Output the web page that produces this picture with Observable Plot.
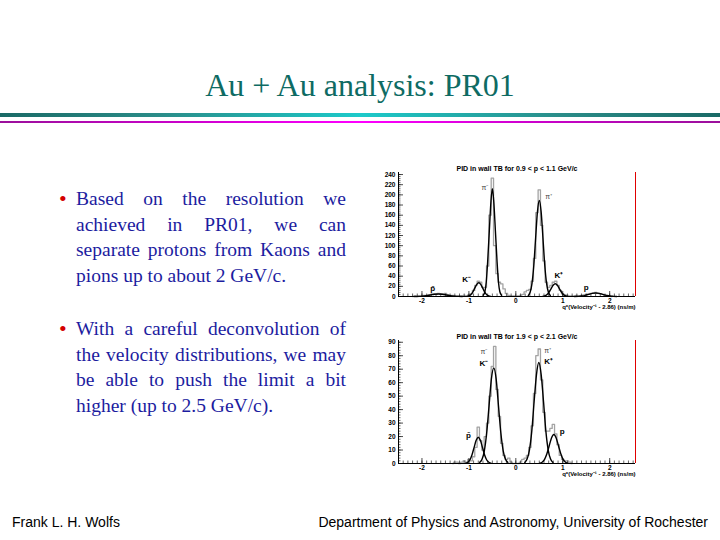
<!DOCTYPE html>
<html>
<head>
<meta charset="utf-8">
<script src="https://cdn.jsdelivr.net/npm/d3@7"></script>
<script src="https://cdn.jsdelivr.net/npm/@observablehq/plot@0.6"></script>
<style>
  body { margin: 0; background: #fff; }
  #slide { position: relative; width: 720px; height: 540px; overflow: hidden; background: #fff; }
  #title { position: absolute; left: 0; top: 69px; width: 720px; text-align: center;
    font-family: "Liberation Serif", "Times New Roman", serif; font-size: 32px; line-height: 32px; color: #0e6b63; }
  .bar1 { position: absolute; left: 0; top: 113px; width: 720px; height: 4px;
    background: linear-gradient(to right, #1a6a66 0%, #2a8c88 22%, #1ccaca 50%, #2a8c88 78%, #1a6a66 100%); }
  .bar2 { position: absolute; left: 0; top: 121px; width: 720px; height: 2px;
    background: linear-gradient(to right, #9a109a 0%, #d000d0 28%, #ff00ff 50%, #d000d0 72%, #9a109a 100%); }
  .bullet { position: absolute; left: 76px; width: 270px; font-family: "Liberation Serif", "Times New Roman", serif;
    font-size: 19.5px; line-height: 25.6px; color: #1c1ca0; }
  .bullet .ln { text-align: justify; text-align-last: justify; }
  .bullet .last { text-align: left; text-align-last: left; }
  .bullet .dot { position: absolute; left: -17px; top: 0; color: #d40000; font-size: 22px; line-height: 25.6px; }
  .chart { position: absolute; left: 370px; }
  .chart svg { display: block; }
  .foot { position: absolute; top: 515px; font-family: "Liberation Sans", Arial, sans-serif; font-size: 14px; line-height: 14px; color: #000; }
</style>
</head>
<body>
<div id="slide">
  <div id="title">Au + Au analysis: PR01</div>
  <div class="bar1"></div>
  <div class="bar2"></div>

  <div class="bullet" style="top:186px">
    <span class="dot">•</span>
    <div class="ln">Based on the resolution we</div>
    <div class="ln">achieved in PR01, we can</div>
    <div class="ln">separate protons from Kaons and</div>
    <div class="ln last">pions up to about 2 GeV/c.</div>
  </div>
  <div class="bullet" style="top:316px">
    <span class="dot">•</span>
    <div class="ln">With a careful deconvolution of</div>
    <div class="ln">the velocity distributions, we may</div>
    <div class="ln">be able to push the limit a bit</div>
    <div class="ln last">higher (up to 2.5 GeV/c).</div>
  </div>

  <div class="chart" id="chartTop" style="top:155px"></div>
  <div class="chart" id="chartBottom" style="top:325px"></div>

  <div class="foot" style="left:12px">Frank L. H. Wolfs</div>
  <div class="foot" style="right:12px; text-align:right">Department of Physics and Astronomy, University of Rochester</div>
</div>

<script>
// ---------- shared axis data ----------
const xDomain = [-2.5, 2.55];
const xTicks = [-2, -1, 0, 1, 2];
const xLabel = "q*(Velocity\u207B\u00B9 - 2.86) (ns/m)";
const binWidth = 0.05;

// ---------- top chart: 0.9 < p < 1.1 GeV/c ----------
const topTitle = "PID in wall TB for 0.9 < p < 1.1 GeV/c";
const topYDomain = [0, 244];
const topYTicks = [0, 20, 40, 60, 80, 100, 120, 140, 160, 180, 200, 220, 240];
const topHistStart = -2.20;
const topHistCounts = [
  0, 1, 0, 1, 1, 2, 2, 3, 4, 5, 4, 6, 5, 5, 6, 3, 2, 2, 1, 1,
  1, 1, 2, 1, 3, 5, 12, 22, 30, 28, 18, 18, 60, 160, 233, 100, 45, 28, 25, 15,
  6, 2, 1, 1, 0, 1, 2, 4, 9, 12, 14, 30, 75, 165, 210, 140, 70, 28, 18, 22,
  28, 30, 22, 12, 5, 3, 2, 1, 1, 1, 2, 1, 2, 3, 4, 5, 6, 7, 8, 6,
  5, 4, 2, 1, 1, 0
];
const topFitPbar = [[-2.16,0.1],[-2.07,0.2],[-1.99,0.7],[-1.91,1.6],[-1.82,3.0],[-1.74,4.4],[-1.65,5],[-1.57,4.4],[-1.48,3.0],[-1.40,1.6],[-1.31,0.7],[-1.23,0.2],[-1.14,0.1]];
const topFitKminus = [[-1.045,0.3],[-1.0025,1.2],[-0.96,3.6],[-0.9175,8.8],[-0.875,16.4],[-0.8325,23.8],[-0.79,27],[-0.7475,23.8],[-0.705,16.4],[-0.6625,8.8],[-0.62,3.6],[-0.5775,1.2],[-0.535,0.3]];
const topFitPiMinus = [[-0.695,2.3],[-0.66,9.3],[-0.63,28.6],[-0.60,69],[-0.565,129],[-0.53,187],[-0.50,212],[-0.47,187],[-0.435,129],[-0.40,69],[-0.37,28.6],[-0.34,9.3],[-0.305,2.3]];
const topFitPiPlus = [[0.266,2.1],[0.305,8.3],[0.344,25.5],[0.383,61],[0.422,115],[0.461,167],[0.50,189],[0.539,167],[0.578,115],[0.617,61],[0.656,25.5],[0.695,8.3],[0.734,2.1]];
const topFitKplus = [[0.57,0.3],[0.615,1.1],[0.66,3.4],[0.705,8.1],[0.75,15.2],[0.795,22],[0.84,25],[0.885,22],[0.93,15.2],[0.975,8.1],[1.02,3.4],[1.065,1.1],[1.11,0.3]];
const topFitP = [[1.25,0.1],[1.33,0.3],[1.40,0.9],[1.48,2.3],[1.55,4.2],[1.63,6.2],[1.70,7],[1.78,6.2],[1.85,4.2],[1.93,2.3],[2.00,0.9],[2.08,0.3],[2.15,0.1]];
const topLabels = [
  {t: "\u03C0\u207B", x: -0.66, y: 214, kind: "pi"},
  {t: "\u03C0\u207A", x: 0.70, y: 196, kind: "pi"},
  {t: "K\u207B", x: -1.05, y: 33, kind: "k"},
  {t: "K\u207A", x: 0.92, y: 41, kind: "k"},
  {t: "p\u0304", x: -1.77, y: 15, kind: "k"},
  {t: "p", x: 1.50, y: 17, kind: "k"}
];

// ---------- bottom chart: 1.9 < p < 2.1 GeV/c ----------
const bottomTitle = "PID in wall TB for 1.9 < p < 2.1 GeV/c";
const bottomYDomain = [0, 91.3];
const bottomYTicks = [0, 10, 20, 30, 40, 50, 60, 70, 80, 90];
const bottomHistStart = -1.35;
const bottomHistCounts = [
  0, 1, 1, 0, 1, 2, 1, 3, 2, 5, 12, 27, 17, 10, 20, 30, 50, 72, 87, 55,
  35, 15, 6, 3, 4, 1, 0, 0, 0, 1, 3, 4, 6, 12, 28, 52, 80, 85, 62, 38,
  24, 24, 26, 29, 22, 14, 6, 3, 2, 2, 1, 0
];
const bottomFitPbar = [[-1.07,0.2],[-1.025,0.9],[-0.98,2.6],[-0.935,6.3],[-0.89,11.8],[-0.845,17.2],[-0.80,19.5],[-0.755,17.2],[-0.71,11.8],[-0.665,6.3],[-0.62,2.6],[-0.575,0.9],[-0.53,0.2]];
const bottomFitPiK = [[-0.77,0.8],[-0.72,3.1],[-0.67,9.6],[-0.62,23],[-0.57,43],[-0.52,63],[-0.47,71],[-0.42,63],[-0.37,43],[-0.32,23],[-0.27,9.6],[-0.22,3.1],[-0.17,0.8]];
const bottomFitPiKplus = [[0.19,0.8],[0.24,3.3],[0.29,10],[0.34,24],[0.39,46],[0.44,66],[0.49,75],[0.54,66],[0.59,46],[0.64,24],[0.69,10],[0.74,3.3],[0.79,0.8]];
const bottomFitP = [[0.51,0.2],[0.56,0.9],[0.61,2.9],[0.66,7],[0.71,13],[0.76,19],[0.81,21.5],[0.86,19],[0.91,13],[0.96,7],[1.01,2.9],[1.06,0.9],[1.11,0.2]];
const bottomLabels = [
  {t: "\u03C0\u207B", x: -0.68, y: 83, kind: "pi"},
  {t: "K\u207B", x: -0.68, y: 74, kind: "k"},
  {t: "\u03C0\u207A", x: 0.68, y: 84, kind: "pi"},
  {t: "K\u207A", x: 0.70, y: 76, kind: "k"},
  {t: "p\u0304", x: -1.01, y: 21, kind: "k"},
  {t: "p", x: 0.99, y: 24, kind: "k"}
];

function makeChart(cfg) {
  const W = 270, H = 160;
  const fw = W - cfg.ml - cfg.mr, fh = H - cfg.mt - cfg.mb;
  const hist = cfg.counts.map((c, i) => ({x: cfg.start + i * binWidth, y: c}));
  const yMinor = d3.range(cfg.yDomain[0], cfg.yDomain[1], cfg.minorStep);
  const xMinor = d3.range(-2.5, 2.55, 0.1);
  const fmt = d => String(d);
  return Plot.plot({
    width: W, height: H,
    marginLeft: cfg.ml, marginRight: cfg.mr, marginTop: cfg.mt, marginBottom: cfg.mb,
    x: {domain: xDomain}, y: {domain: cfg.yDomain},
    style: {fontFamily: "'Liberation Sans', Arial, sans-serif", fontSize: "6.5px", fontWeight: "bold", color: "#000", background: "#fff", overflow: "visible"},
    marks: [
      Plot.lineY(hist, {x: "x", y: "y", curve: "step", stroke: "#a3a3a3", strokeWidth: 1.3}),
      ...cfg.fits.map(f => Plot.line(f, {x: d => d[0], y: d => d[1], curve: "monotone-x", stroke: "#000", strokeWidth: 1.4})),
      Plot.tickY(yMinor, {y: d => d, insetRight: fw - 2.5, stroke: "#000", strokeWidth: 0.6}),
      Plot.tickY(cfg.yTicks, {y: d => d, insetRight: fw - 5, stroke: "#000", strokeWidth: 0.7}),
      Plot.tickX(xMinor, {x: d => d, insetTop: fh - 2.5, stroke: "#000", strokeWidth: 0.6}),
      Plot.tickX(xTicks, {x: d => d, insetTop: fh - 5, stroke: "#000", strokeWidth: 0.7}),
      Plot.ruleY([cfg.yDomain[0]], {stroke: "#000", strokeWidth: 1}),
      Plot.ruleX([xDomain[0]], {stroke: "#000", strokeWidth: 1}),
      Plot.ruleX([xDomain[1]], {stroke: "#e00000", strokeWidth: 1}),
      Plot.axisY({ticks: cfg.yTicks, tickSize: 0, tickPadding: 3, tickFormat: fmt, label: null, fontSize: 6.5, fontWeight: "bold"}),
      Plot.axisX({ticks: xTicks, tickSize: 0, tickPadding: 1.5, tickFormat: fmt, label: null, fontSize: 6.5, fontWeight: "bold"}),
      Plot.text([cfg.title], {text: d => d, frameAnchor: "top", dy: -6, fontSize: 7, fontWeight: "bold"}),
      Plot.text([xLabel], {text: d => d, frameAnchor: "bottom-right", textAnchor: "end", dy: 12, fontSize: 6, fontWeight: "bold"}),
      Plot.text(cfg.labels.filter(d => d.kind === "k"), {x: "x", y: "y", text: "t", fontSize: 8, fontWeight: "bold", fill: "#000"}),
      Plot.text(cfg.labels.filter(d => d.kind === "pi"), {x: "x", y: "y", text: "t", fontSize: 7, fontWeight: "normal", fill: "#444"})
    ]
  });
}

document.getElementById("chartTop").append(makeChart({
  title: topTitle, yDomain: topYDomain, yTicks: topYTicks, minorStep: 4,
  start: topHistStart, counts: topHistCounts,
  fits: [topFitPbar, topFitKminus, topFitPiMinus, topFitPiPlus, topFitKplus, topFitP],
  labels: topLabels, ml: 28, mr: 5, mt: 17, mb: 19
}));

document.getElementById("chartBottom").append(makeChart({
  title: bottomTitle, yDomain: bottomYDomain, yTicks: bottomYTicks, minorStep: 2,
  start: bottomHistStart, counts: bottomHistCounts,
  fits: [bottomFitPbar, bottomFitPiK, bottomFitPiKplus, bottomFitP],
  labels: bottomLabels, ml: 28, mr: 5, mt: 15, mb: 22
}));
</script>
</body>
</html>
